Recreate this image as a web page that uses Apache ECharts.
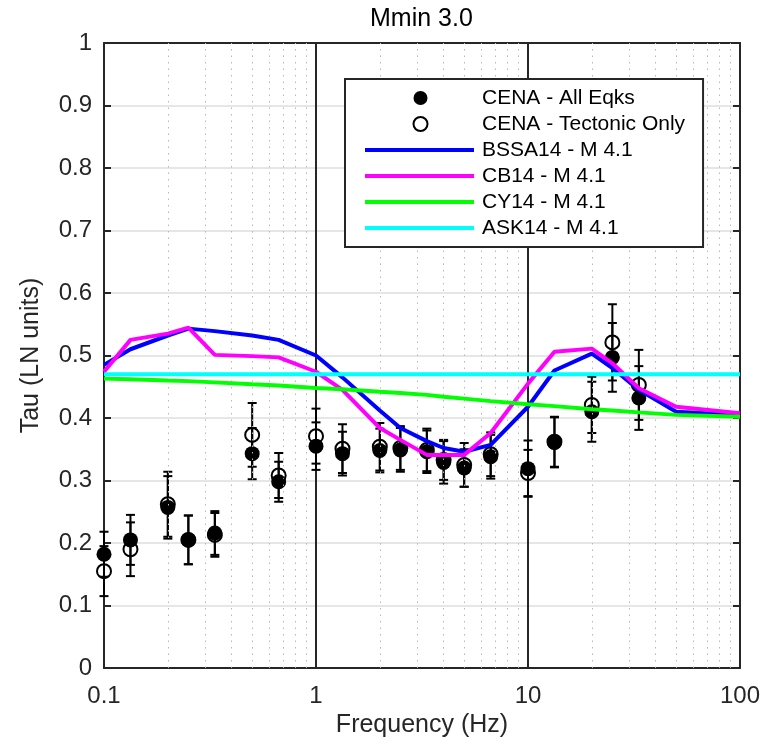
<!DOCTYPE html>
<html><head><meta charset="utf-8">
<script src="https://cdn.jsdelivr.net/npm/echarts@6/dist/echarts.min.js"></script>
<style>html,body{margin:0;padding:0;background:#fff}#c{width:772px;height:751px}</style>
</head><body><div id="c"></div>
<script>
// ---- data ----
const obsFreq     = [0.1, 0.1333, 0.2, 0.25, 0.3333, 0.5, 0.6667, 1, 1.333, 2, 2.5, 3.333, 4, 5, 6.667, 10, 13.33, 20, 25, 33.33];
const allEqks     = [0.182, 0.205, 0.257, 0.205, 0.216, 0.343, 0.298, 0.355, 0.343, 0.348, 0.349, 0.346, 0.329, 0.320, 0.338, 0.319, 0.361, 0.410, 0.497, 0.432];
const allEqksErr  = [0.036, 0.040, 0.050, 0.039, 0.035, 0.041, 0.032, 0.038, 0.035, 0.035, 0.035, 0.034, 0.034, 0.030, 0.035, 0.045, 0.040, 0.048, 0.055, 0.051];
const tectonic    = [0.155, 0.190, 0.262, 0.205, 0.213, 0.373, 0.308, 0.371, 0.351, 0.354, 0.352, 0.349, 0.333, 0.325, 0.342, 0.312, 0.362, 0.421, 0.521, 0.453];
const tectonicErr = [0.040, 0.043, 0.052, 0.039, 0.035, 0.051, 0.036, 0.044, 0.039, 0.038, 0.035, 0.034, 0.032, 0.035, 0.035, 0.037, 0.040, 0.045, 0.061, 0.056];
const modelFreq   = [0.1, 0.1333, 0.2, 0.25, 0.3333, 0.5, 0.6667, 1, 1.333, 2, 2.5, 3.333, 4, 5, 6.667, 10, 13.33, 20, 25, 33.33, 50, 100];
const bssa14      = [0.485, 0.510, 0.532, 0.543, 0.539, 0.532, 0.525, 0.500, 0.465, 0.412, 0.384, 0.363, 0.352, 0.346, 0.357, 0.418, 0.476, 0.503, 0.480, 0.445, 0.410, 0.405];
const cb14        = [0.474, 0.525, 0.535, 0.5445, 0.501, 0.499, 0.497, 0.474, 0.445, 0.384, 0.365, 0.341, 0.341, 0.341, 0.376, 0.455, 0.506, 0.511, 0.4875, 0.4475, 0.418, 0.4075];
const cy14        = [0.463, 0.462, 0.460, 0.459, 0.457, 0.454, 0.452, 0.448, 0.446, 0.442, 0.440, 0.437, 0.434, 0.431, 0.427, 0.422, 0.419, 0.414, 0.412, 0.409, 0.405, 0.402];
const ask14       = [0.470, 0.470, 0.470, 0.470, 0.470, 0.470, 0.470, 0.470, 0.470, 0.470, 0.470, 0.470, 0.470, 0.470, 0.470, 0.470, 0.470, 0.470, 0.470, 0.470, 0.470, 0.470];
const minorGridFreq = [0.2,0.3,0.4,0.5,0.6,0.7,0.8,0.9, 2,3,4,5,6,7,8,9, 20,30,40,50,60,70,80,90];
const xTickLabels = ['0.1', '1', '10', '100'];
const seriesNames = ['CENA - All Eqks', 'CENA - Tectonic Only', 'BSSA14 - M 4.1', 'CB14 - M 4.1', 'CY14 - M 4.1', 'ASK14 - M 4.1'];
const titleText = 'Mmin 3.0';

const FONT = 'Liberation Sans, Arial, Helvetica, sans-serif';
const AX = '#262626';
// legend line-sample icon: a thick bar, with tiny corner points fixing the 113x14 icon box
const LINE_ICON = 'path://M0,0L0.01,0L0.01,0.01Z M1,5L110,5L110,9L1,9Z M113,14L112.99,14L112.99,13.99Z';

function pairs(xs, ys) { return xs.map((x, i) => [x, ys[i]]); }
function errData(xs, ys, es) { return xs.map((x, i) => [x, ys[i] - es[i], ys[i] + es[i]]); }

function errRender(params, api) {
  const x = api.value(0), lo = api.value(1), hi = api.value(2);
  const p1 = api.coord([x, lo]), p2 = api.coord([x, hi]);
  const c = 4.5;
  const st = { stroke: '#000', lineWidth: 2 };
  return { type: 'group', children: [
    { type: 'line', shape: { x1: p1[0], y1: p1[1], x2: p2[0], y2: p2[1] }, style: st },
    { type: 'line', shape: { x1: p1[0] - c, y1: p1[1], x2: p1[0] + c, y2: p1[1] }, style: st },
    { type: 'line', shape: { x1: p2[0] - c, y1: p2[1], x2: p2[0] + c, y2: p2[1] }, style: st }
  ]};
}

const chart = echarts.init(document.getElementById('c'), null, { renderer: 'canvas' });
const lineColors = ['#0000ff', '#ff00ff', '#00ff00', '#00ffff'];
const modelVals = [bssa14, cb14, cy14, ask14];

const option = {
  animation: false,
  backgroundColor: '#fff',
  title: {
    text: titleText, left: 370, top: 7, padding: 0,
    textStyle: { fontFamily: FONT, fontSize: 25, fontWeight: 'normal', color: '#000' }
  },
  grid: { left: 104, right: 32, top: 43, bottom: 83, containLabel: false },
  legend: {
    data: seriesNames.map((n, i) => i < 2 ? { name: n } : { name: n, icon: LINE_ICON }),
    orient: 'vertical', left: 345, top: 79,
    itemWidth: 113, itemHeight: 14, itemGap: 4,
    padding: [8, 18, 8, 19],
    borderColor: AX, borderWidth: 2, backgroundColor: '#fff',
    textStyle: { fontFamily: FONT, fontSize: 21, lineHeight: 22, color: '#000' },
    z: 20
  },
  xAxis: [{
    type: 'log', logBase: 10, min: 0.1, max: 100,
    position: 'bottom',
    name: 'Frequency (Hz)', nameLocation: 'middle', nameGap: 41,
    nameTextStyle: { fontFamily: FONT, fontSize: 25, color: AX },
    axisLine: { show: true, onZero: false, lineStyle: { color: AX, width: 2 } },
    axisTick: { show: false },
    axisLabel: {
      fontFamily: FONT, fontSize: 24, color: AX, margin: 16,
      formatter: function (v) {
        const i = Math.round(Math.log10(v)) + 1;
        return xTickLabels[i] !== undefined ? xTickLabels[i] : String(v);
      }
    },
    splitLine: { show: true, lineStyle: { color: AX, width: 2 } }
  }, {
    type: 'log', logBase: 10, min: 0.1, max: 100,
    position: 'top',
    axisLine: { show: true, onZero: false, lineStyle: { color: AX, width: 2 } },
    axisTick: { show: false }, axisLabel: { show: false }, splitLine: { show: false }
  }],
  yAxis: [{
    type: 'value', min: 0, max: 1, interval: 0.1,
    position: 'left',
    name: 'Tau (LN units)', nameLocation: 'middle', nameGap: 60, nameRotate: 90,
    nameTextStyle: { fontFamily: FONT, fontSize: 25, color: AX },
    axisLine: { show: true, onZero: false, lineStyle: { color: AX, width: 2 } },
    axisTick: { show: true, inside: true, length: 7, lineStyle: { color: AX, width: 2 } },
    axisLabel: { fontFamily: FONT, fontSize: 24, color: AX, margin: 12 },
    splitLine: { show: true, lineStyle: { color: '#dedede', width: 1.5 } }
  }, {
    type: 'value', min: 0, max: 1, interval: 0.1,
    position: 'right',
    axisLine: { show: true, onZero: false, lineStyle: { color: AX, width: 2 } },
    axisTick: { show: true, inside: true, length: 7, lineStyle: { color: AX, width: 2 } },
    axisLabel: { show: false }, splitLine: { show: false }
  }],
  series: [
    {
      type: 'line', data: [], z: 1, silent: true,
      markLine: {
        silent: true, symbol: 'none', label: { show: false },
        lineStyle: { color: '#b8b8b8', width: 1, type: [1.5, 5] },
        data: minorGridFreq.map(f => ({ xAxis: f }))
      }
    },
    {
      type: 'custom', renderItem: errRender, z: 3, silent: true,
      data: errData(obsFreq, allEqks, allEqksErr), encode: { x: 0, y: [1, 2] }
    },
    {
      type: 'custom', renderItem: errRender, z: 3, silent: true,
      data: errData(obsFreq, tectonic, tectonicErr), encode: { x: 0, y: [1, 2] }
    },
    {
      name: seriesNames[0], type: 'scatter', symbol: 'circle', symbolSize: 15, z: 4,
      itemStyle: { color: '#000', opacity: 1 },
      data: pairs(obsFreq, allEqks)
    },
    {
      name: seriesNames[1], type: 'scatter', symbol: 'circle', symbolSize: 14, z: 5,
      itemStyle: { color: 'rgba(0,0,0,0)', borderColor: '#000', borderWidth: 2, opacity: 1 },
      data: pairs(obsFreq, tectonic)
    }
  ].concat(modelVals.map((vals, k) => ({
    name: seriesNames[k + 2], type: 'line', showSymbol: false, symbol: 'none', z: 6,
    lineStyle: { color: lineColors[k], width: 4 }, itemStyle: { color: lineColors[k] },
    data: pairs(modelFreq, vals)
  })))
};
chart.setOption(option);
</script></body></html>
